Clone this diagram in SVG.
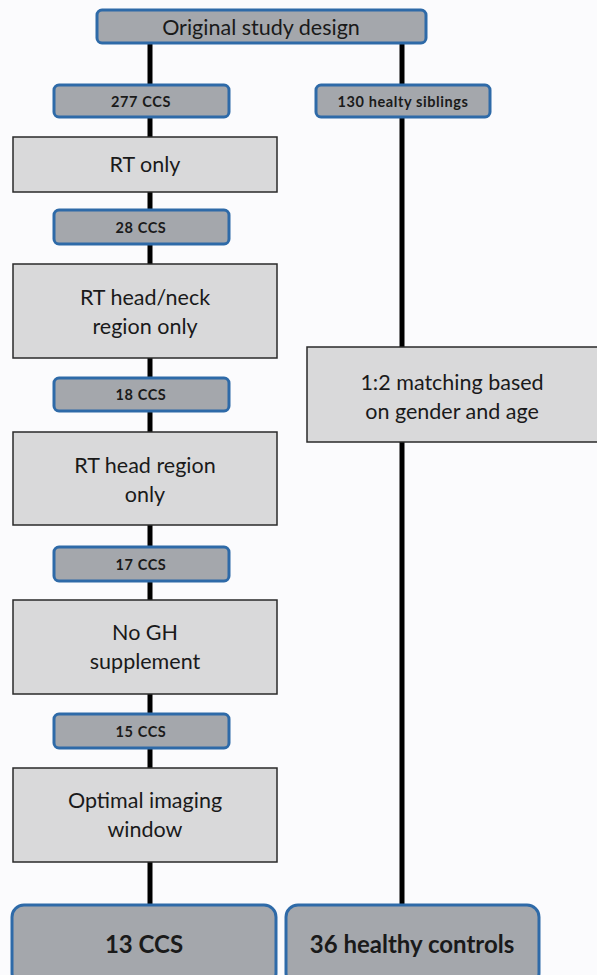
<svg xmlns="http://www.w3.org/2000/svg" width="597" height="975" viewBox="0 0 597 975">
<style>
.bg{fill:#fbfbfd}
.dark{fill:#a4a7ac;stroke:#2e6aa8;stroke-width:3}
.light{fill:#d9d9da;stroke:#2a2a2a;stroke-width:1.5}
.conn{stroke:#000;stroke-width:5;fill:none}
text{font-family:Lato,"Open Sans","Liberation Sans",sans-serif;fill:#1a1a1a;text-anchor:middle;dominant-baseline:central}
.t{font-size:21.5px}
.s{font-size:14.5px;font-weight:bold;letter-spacing:0.6px}
.b{font-size:24px;font-weight:bold}
</style>
<rect class="bg" x="0" y="0" width="597" height="975"/>
<g id="connectors">
<line class="conn" x1="150" y1="43" x2="150" y2="906"/>
<line class="conn" x1="402" y1="43" x2="402" y2="906"/>
</g>
<g id="n-original"><rect class="dark" x="97" y="10" width="329" height="33" rx="5"/><text class="t" x="261" y="27">Original study design</text></g>
<g id="n-277"><rect class="dark" x="54" y="85" width="175" height="32" rx="5"/><text class="s" x="141" y="101">277 CCS</text></g>
<g id="n-130"><rect class="dark" x="316" y="85" width="174" height="32" rx="5"/><text class="s" x="403" y="101">130 healty siblings</text></g>
<g id="n-rtonly"><rect class="light" x="13" y="137" width="264" height="55"/><text class="t" x="145" y="164">RT only</text></g>
<g id="n-28"><rect class="dark" x="54" y="210" width="175" height="34" rx="5"/><text class="s" x="141" y="227">28 CCS</text></g>
<g id="n-headneck"><rect class="light" x="13" y="264" width="264" height="94"/><text class="t" x="145" y="297">RT head/neck</text><text class="t" x="145" y="326">region only</text></g>
<g id="n-18"><rect class="dark" x="54" y="378" width="175" height="33" rx="5"/><text class="s" x="141" y="394">18 CCS</text></g>
<g id="n-head"><rect class="light" x="13" y="432" width="264" height="93"/><text class="t" x="145" y="465">RT head region</text><text class="t" x="145" y="494">only</text></g>
<g id="n-17"><rect class="dark" x="54" y="547" width="175" height="34" rx="5"/><text class="s" x="141" y="564">17 CCS</text></g>
<g id="n-nogh"><rect class="light" x="13" y="600" width="264" height="94"/><text class="t" x="145" y="632">No GH</text><text class="t" x="145" y="661">supplement</text></g>
<g id="n-15"><rect class="dark" x="54" y="714" width="175" height="34" rx="5"/><text class="s" x="141" y="731">15 CCS</text></g>
<g id="n-optimal"><rect class="light" x="13" y="768" width="264" height="94"/><text class="t" x="145" y="800">Optimal imaging</text><text class="t" x="145" y="829">window</text></g>
<g id="n-matching"><rect class="light" x="307" y="347" width="292" height="95"/><text class="t" x="452" y="382">1:2 matching based</text><text class="t" x="452" y="411">on gender and age</text></g>
<g id="n-13"><rect class="dark" x="12" y="905" width="264" height="80" rx="12"/><text class="b" x="144" y="943">13 CCS</text></g>
<g id="n-36"><rect class="dark" x="286" y="905" width="253" height="80" rx="12"/><text class="b" x="412" y="943">36 healthy controls</text></g>
</svg>
